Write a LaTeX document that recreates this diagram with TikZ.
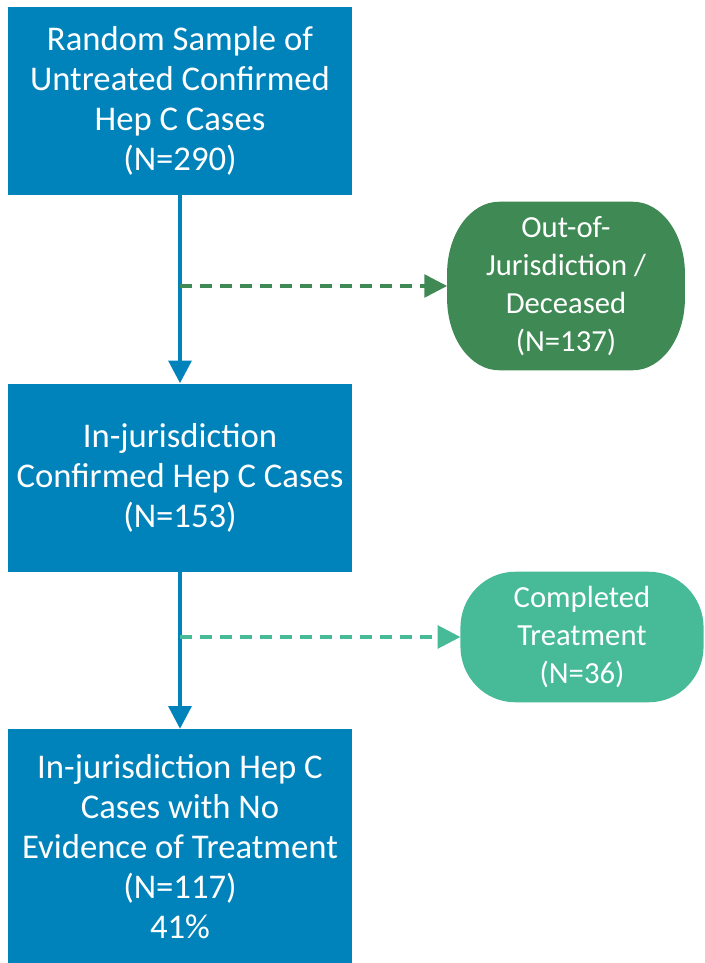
\documentclass[tikz,border=0pt]{standalone}
\usepackage{fontspec}
\setmainfont{Carlito}
\usetikzlibrary{arrows.meta}
\usetikzlibrary{positioning}
\usetikzlibrary{backgrounds}

\definecolor{caseblue}{RGB}{0,131,186}
\definecolor{outgreen}{RGB}{63,137,84}
\definecolor{donegreen}{RGB}{71,187,151}

% node name, colour, corner x radius, corner y radius
\newcommand{\pillfill}[4]{%
  \fill[#2] ([xshift=#3]#1.north west) -- ([xshift=-#3]#1.north east)
    arc[start angle=90, end angle=0, x radius=#3, y radius=#4]
    -- ([yshift=#4]#1.south east)
    arc[start angle=0, end angle=-90, x radius=#3, y radius=#4]
    -- ([xshift=#3]#1.south west)
    arc[start angle=270, end angle=180, x radius=#3, y radius=#4]
    -- ([yshift=-#4]#1.north west)
    arc[start angle=180, end angle=90, x radius=#3, y radius=#4] -- cycle;}

\begin{document}
\begin{tikzpicture}[x=0.75pt,y=-0.75pt,node distance=141pt]
        \tikzstyle{every node}=[align=center, text=white, inner sep=0pt]
        \tikzstyle{casebox}=[rectangle, fill=caseblue, minimum width=258pt, minimum height=141pt, font=\fontsize{26}{30}\selectfont]
        \tikzstyle{exitbox}=[rectangle, font=\fontsize{23}{28.5}\selectfont]
        \tikzstyle{flow}=[-{Triangle[length=17pt,width=17pt]}, line width=3pt, draw=caseblue]
        \tikzstyle{side}=[-{Triangle[length=17pt,width=17pt]}, line width=2.5pt, dash pattern=on 9pt off 6pt]
        \useasboundingbox (0,0) rectangle (704,963);
        \node[casebox] (sample) at (180,101) {Random Sample of\\ Untreated Confirmed\\ Hep C Cases\\ (N=290)};
        \node[casebox, below=of sample] (injur) {In-jurisdiction\\ Confirmed Hep C Cases\\ (N=153)};
        \node[casebox, below=117.75pt of injur, minimum height=177pt] (notreat) {In-jurisdiction Hep C\\ Cases with No\\ Evidence of Treatment\\ (N=117)\\ 41\%};
        \node[exitbox, minimum width=178pt, minimum height=126pt] (outjur) at (566,286) {Out-of-\\ Jurisdiction /\\ Deceased\\ (N=137)};
        \node[exitbox, minimum width=182pt, minimum height=97.5pt] (done) at (582,637) {Completed\\ Treatment\\ (N=36)};
        \begin{scope}[on background layer]
          \pillfill{outjur}{outgreen}{39pt}{54pt}
          \pillfill{done}{donegreen}{41pt}{42pt}
        \end{scope}
        \draw[flow] (sample) -- (injur);
        \draw[flow] (injur) -- (notreat);
        \draw[side, outgreen] (sample.south |- outjur) -- (outjur);
        \draw[side, donegreen] (injur.south |- done) -- (done);
      \end{tikzpicture}
\end{document}
